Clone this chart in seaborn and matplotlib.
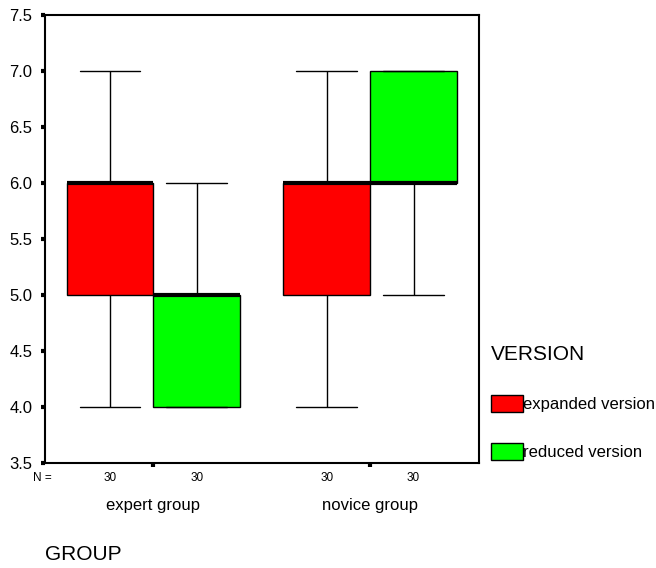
# SPSS style boxplot: ratings per group and version

import matplotlib.pyplot as plt
import numpy as np
import pandas as pd
import seaborn as sns

groups = ["expert group", "novice group"]
versions = ["expanded version", "reduced version"]
scores = [4, 5, 6, 7]

# how many of the 30 ratings fell on 4, 5, 6, 7
expert_expanded = [3, 10, 12, 5]
expert_reduced = [9, 14, 7, 0]
novice_expanded = [2, 9, 13, 6]
novice_reduced = [0, 3, 14, 13]

counts = {
    ("expert group", "expanded version"): expert_expanded,
    ("expert group", "reduced version"): expert_reduced,
    ("novice group", "expanded version"): novice_expanded,
    ("novice group", "reduced version"): novice_reduced,
}
palette = {"expanded version": "#ff0000", "reduced version": "#00ff00"}

rows = []
for (g, v), c in counts.items():
    for val in np.repeat(scores, c):
        rows.append({"GROUP": g, "VERSION": v, "score": val})
df = pd.DataFrame(rows)

sns.set_style("white", {"text.color": "black", "xtick.color": "black",
                        "ytick.color": "black", "axes.labelcolor": "black"})
plt.rcParams["font.family"] = ["Liberation Sans", "DejaVu Sans"]

fig = plt.figure(figsize=(6.56, 5.68), dpi=100)
ax = fig.add_axes([0.0686, 0.185, 0.661, 0.789])

sns.boxplot(
    data=df,
    x="GROUP",
    y="score",
    hue="VERSION",
    order=groups,
    hue_order=versions,
    palette=palette,
    saturation=1,
    width=0.8,
    whis=1.5,
    linecolor="black",
    linewidth=1.0,
    medianprops=dict(linewidth=3, color="black"),
    capwidths=0.28,
    ax=ax,
)

ax.set_xlim(-0.5, 1.5)
ax.set_ylim(3.5, 7.5)
ax.set_yticks(np.arange(3.5, 7.51, 0.5))
ax.set_yticklabels([f"{t:.1f}" for t in np.arange(3.5, 7.51, 0.5)], fontsize=12)
ax.set_xticks(range(len(groups)))
ax.set_xticklabels(groups, fontsize=12)
ax.tick_params(axis="y", length=3, width=3, direction="out", pad=6, left=True)
ax.tick_params(axis="x", length=3, width=3, direction="out", pad=22, bottom=True)
ax.set_xlabel("")
ax.set_ylabel("")
for s in ax.spines.values():
    s.set_color("black")
    s.set_linewidth(1.5)

# N = counts under each box
ax.annotate("N =", xy=(0, 0), xycoords="axes fraction", xytext=(-2, -11),
            textcoords="offset points", ha="center", va="center", fontsize=8.5)
for i, g in enumerate(groups):
    for j, v in enumerate(versions):
        n = sum(counts[(g, v)])
        xpos = i + (j - 0.5) * 0.4
        ax.annotate(str(n), xy=(xpos, 0), xycoords=("data", "axes fraction"),
                    xytext=(0, -11), textcoords="offset points",
                    ha="center", va="center", fontsize=8.5)

fig.text(0.0686, 1 - 555 / 568, "GROUP", fontsize=15, ha="left", va="center")

sns.move_legend(
    ax,
    loc="upper left",
    bbox_to_anchor=(483 / 656, 1 - 337 / 568),
    bbox_transform=fig.transFigure,
    frameon=False,
    title="VERSION",
    fontsize=12,
    title_fontsize=15,
    handlelength=1.9,
    handleheight=1.2,
    handletextpad=0.0,
    labelspacing=1.85,
    borderpad=0,
    alignment="left",
)

plt.savefig("out.png", dpi=100)
plt.close()
